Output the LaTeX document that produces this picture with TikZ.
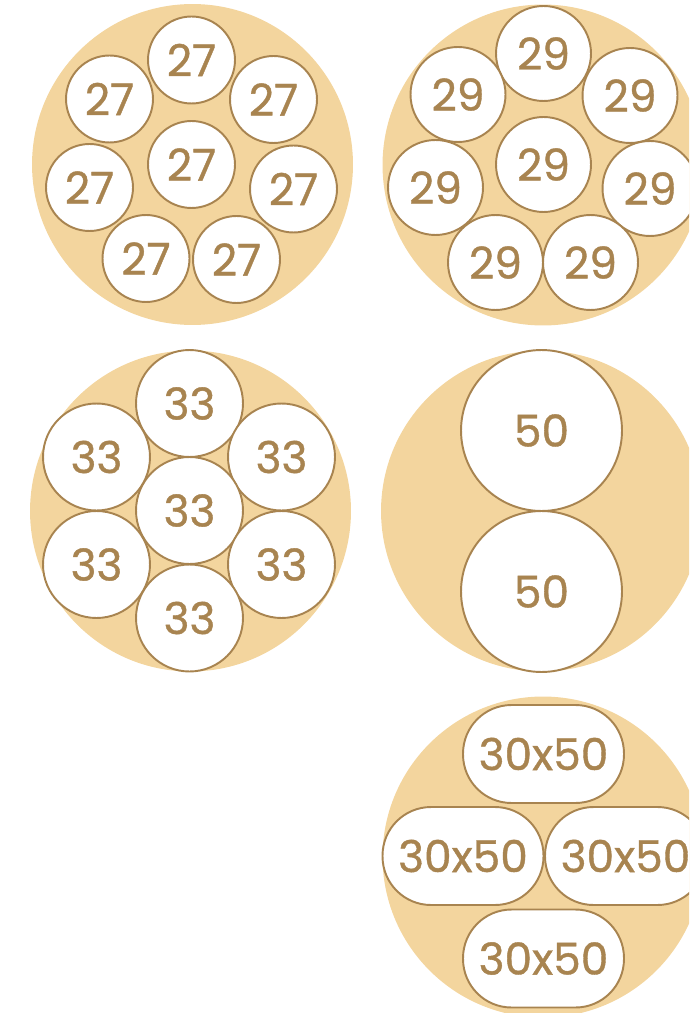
\documentclass[tikz,border=0pt]{standalone}
\usepackage{fontspec}
\setmainfont{Poppins}
\newfontfamily\cuplabel{Poppins}[FakeBold=0.9]
\usepackage{tikz}

\definecolor{platefill}{RGB}{243,213,158}
\definecolor{rimbrown}{RGB}{168,132,80}

\begin{document}
\begin{tikzpicture}[
    x=0.02cm, y=-0.02cm,
    plate/.style={circle, fill=platefill, inner sep=0, minimum size=6.42cm},
    cup/.style={circle, draw=rimbrown, fill=white, line width=1.1pt, inner sep=0,
        text=rimbrown, font=\cuplabel\fontsize{25}{30}\selectfont},
    pill/.style={rectangle, rounded corners=0.97cm, draw=rimbrown, fill=white, line width=1.1pt,
        inner sep=0, minimum width=3.22cm, minimum height=1.96cm,
        text=rimbrown, font=\cuplabel\fontsize{25}{30}\selectfont}
]
\clip (0,0) rectangle (689,1013);
\useasboundingbox (0,0) rectangle (689,1013);

% plate of 27
\node[plate] (p27) at (192.5,164.5) {};
\node[cup, minimum size=1.74cm] (a1) at (191.5,60) {27};
\node[cup, minimum size=1.74cm] (a2) at (109.5,99) {27};
\node[cup, minimum size=1.74cm] (a3) at (273.5,99.5) {27};
\node[cup, minimum size=1.74cm] (a4) at (191.5,164.5) {27};
\node[cup, minimum size=1.74cm] (a5) at (89.5,187.5) {27};
\node[cup, minimum size=1.74cm] (a6) at (293.5,189) {27};
\node[cup, minimum size=1.74cm] (a7) at (146,258.5) {27};
\node[cup, minimum size=1.74cm] (a8) at (236.5,259.5) {27};

% plate of 29
\node[plate] (p29) at (543,165) {};
\node[cup, minimum size=1.9cm] (b1) at (543.5,53.5) {29};
\node[cup, minimum size=1.9cm] (b2) at (458,94.5) {29};
\node[cup, minimum size=1.9cm] (b3) at (630,95.5) {29};
\node[cup, minimum size=1.9cm] (b4) at (543.5,164.5) {29};
\node[cup, minimum size=1.9cm] (b5) at (435.5,187.5) {29};
\node[cup, minimum size=1.9cm] (b6) at (650,188.5) {29};
\node[cup, minimum size=1.9cm] (b7) at (495.5,262.5) {29};
\node[cup, minimum size=1.9cm] (b8) at (590.5,262.5) {29};

% plate of 33
\node[plate] (p33) at (190.5,511) {};
\node[cup, minimum size=2.14cm] (c1) at (189.5,403.5) {33};
\node[cup, minimum size=2.14cm] (c2) at (96.5,457) {33};
\node[cup, minimum size=2.14cm] (c3) at (281.5,457) {33};
\node[cup, minimum size=2.14cm] (c4) at (189.5,510.5) {33};
\node[cup, minimum size=2.14cm] (c5) at (96.5,564.5) {33};
\node[cup, minimum size=2.14cm] (c6) at (281.5,564.5) {33};
\node[cup, minimum size=2.14cm] (c7) at (189.5,618) {33};

% plate of 50
\node[plate] (p50) at (541.5,511) {};
\node[cup, minimum size=3.22cm] (d1) at (541.5,430.5) {50};
\node[cup, minimum size=3.22cm] (d2) at (541.5,591.5) {50};

% plate of 30x50
\node[plate] (p3050) at (543,857) {};
\node[pill] (e1) at (543.5,754) {30x50};
\node[pill] (e2) at (463,856) {30x50};
\node[pill] (e3) at (625.5,856) {30x50};
\node[pill] (e4) at (543.5,958.5) {30x50};
\end{tikzpicture}
\end{document}
